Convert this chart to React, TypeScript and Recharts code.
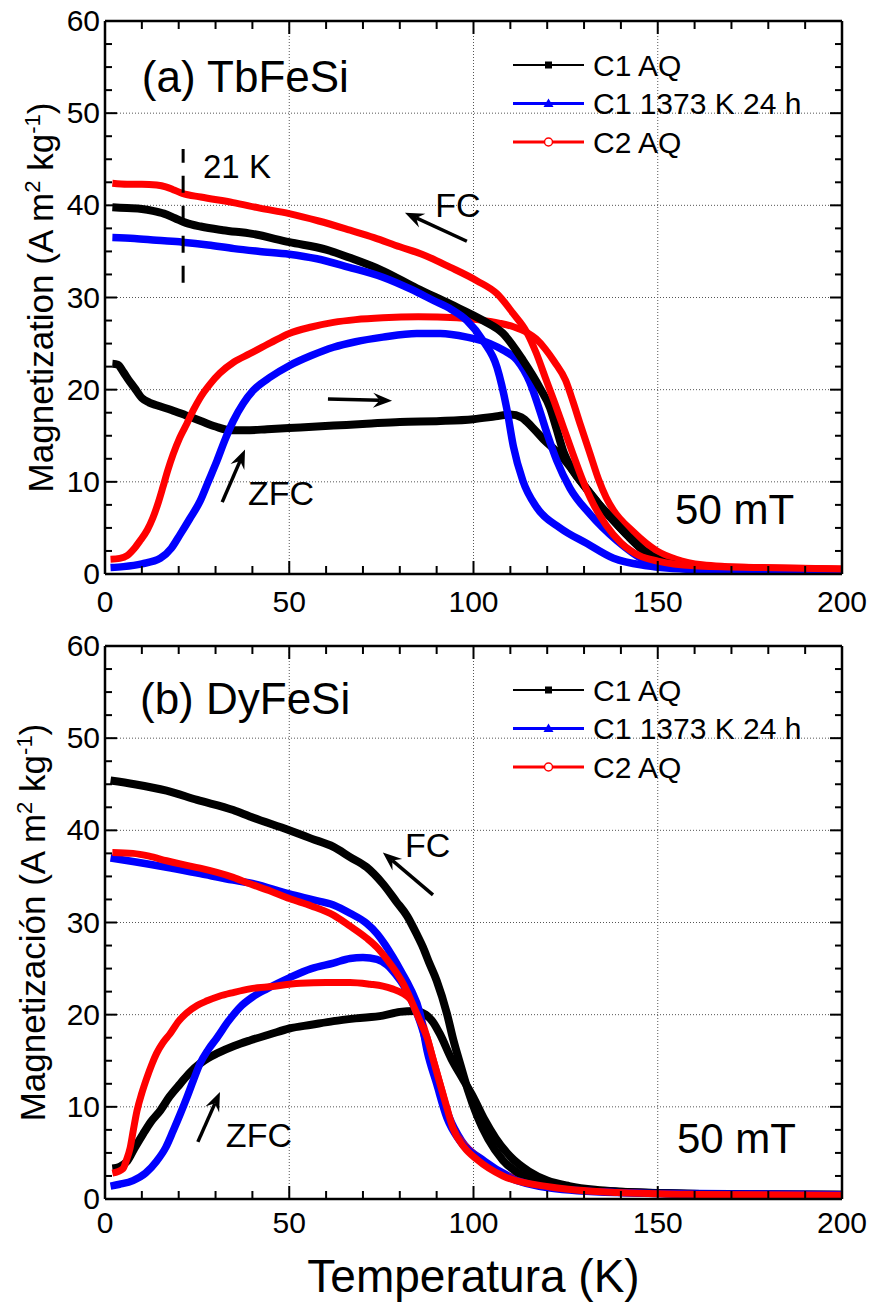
import React from 'react';
import { LineChart, Line, XAxis, YAxis, ReferenceLine, ReferenceDot, Legend } from 'recharts';

type Pt = [number, number];

// (a) TbFeSi, [T (K), M (A m2 kg-1)]
const tbC1AqZfc: Pt[] = [
  [2, 22.8], [3.5, 22.7], [5, 21.9], [6.5, 21.0], [8, 20.2], [10, 19.1], [12, 18.6], [14, 18.3],
  [18, 17.8], [22, 17.2], [26, 16.6], [30, 16.0], [34, 15.6], [38, 15.6], [44, 15.7], [53, 15.9],
  [62, 16.1], [71, 16.3], [80, 16.5], [91, 16.6], [100, 16.8], [106, 17.1], [110, 17.3], [113, 17.0],
  [116, 15.9], [119, 14.6], [122, 13.5], [124.5, 12.5], [127, 11.2], [130, 9.6], [134, 7.6], [138, 5.8],
  [142, 4.1], [146, 2.6], [151, 1.4], [156, 0.9], [165, 0.6], [180, 0.45], [200, 0.4],
];
const tbC1AqFc: Pt[] = [
  [2, 39.8], [6, 39.7], [10, 39.6], [13, 39.4], [16, 39.1], [19, 38.6], [22, 38.1], [26, 37.7],
  [32, 37.3], [40, 36.9], [50, 36.0], [60, 35.2], [66.5, 34.3], [75.4, 32.9], [84.6, 31.0], [93.6, 29.3],
  [102.6, 27.5], [108, 26.1], [113.4, 23.2], [118, 20.2], [120.8, 18.0], [122.5, 15.8], [124.3, 13.4],
  [127, 11.2], [130, 9.6], [134, 7.6], [138, 5.8], [142, 4.1], [146, 2.6], [151, 1.4], [156, 0.9],
  [165, 0.6], [180, 0.45], [200, 0.4],
];
const tbC1hZfc: Pt[] = [
  [1.5, 0.7], [5, 0.8], [10, 1.1], [15, 1.7], [18, 2.8], [20.4, 4.3], [23, 6.0], [25.8, 7.9], [28, 10.0],
  [30.4, 12.3], [32.5, 14.5], [34.8, 16.6], [37.5, 18.5], [40.2, 19.9], [45, 21.4], [50, 22.6], [56, 23.7],
  [62, 24.6], [68, 25.2], [75.4, 25.7], [84.6, 26.1], [91, 26.1], [98.2, 25.7], [104.5, 25.0], [108, 24.3],
  [111.8, 23.2], [115.3, 20.8], [118, 17.7], [120, 15.2], [122.6, 12.3], [126.2, 9.3], [131.6, 6.5],
  [139, 3.6], [146, 1.6], [152, 0.9], [160, 0.5], [180, 0.35], [200, 0.3],
];
const tbC1hFc: Pt[] = [
  [2, 36.5], [8, 36.4], [14, 36.2], [21, 36.0], [28, 35.7], [35, 35.3], [42, 35.0], [50, 34.7],
  [57.5, 34.2], [66, 33.3], [75.4, 32.2], [83, 30.9], [89, 29.7], [94, 28.7], [98.2, 27.5], [102.6, 25.3],
  [106.4, 22.4], [109, 18.0], [110.8, 13.9], [113.4, 10.1], [117.2, 7.2], [123.5, 5.0], [130.8, 3.3],
  [138, 1.7], [147, 0.9], [160, 0.5], [180, 0.35], [200, 0.3],
];
const tbC2AqZfc: Pt[] = [
  [1.5, 1.6], [4, 1.7], [6, 2.0], [8, 2.8], [9.5, 3.6], [11.5, 4.8], [13, 6.1], [14.5, 7.8], [15.7, 9.4],
  [17, 11.2], [18.5, 13.0], [20.3, 14.8], [22.2, 16.3], [24, 17.8], [25.8, 19.1], [28.5, 20.6], [31.2, 21.8],
  [35, 23.0], [39.3, 23.9], [45, 25.1], [50, 26.1], [56, 26.8], [62, 27.3], [68, 27.6], [75.4, 27.8],
  [85, 27.9], [95.5, 27.8], [101, 27.6], [107.2, 27.2], [111, 26.8], [114.5, 26.2], [117, 25.5],
  [119.5, 24.4], [122, 23.0], [125, 21.0], [127, 18.7], [129, 16.2], [131.5, 13.2], [134, 10.2],
  [136, 8.3], [138, 6.9], [143.3, 4.6], [149.8, 2.5], [155, 1.6], [162, 1.0], [175, 0.7], [200, 0.55],
];
const tbC2AqFc: Pt[] = [
  [2, 42.4], [6, 42.3], [10, 42.3], [14, 42.2], [16.5, 42.0], [18.5, 41.7], [21, 41.3], [26, 40.9],
  [34.8, 40.3], [42, 39.7], [50, 39.1], [58, 38.3], [66.5, 37.3], [73, 36.5], [80, 35.5], [86, 34.7],
  [93.6, 33.3], [101, 31.8], [106.4, 30.4], [110.7, 28.3], [114.5, 26.2], [117, 24.0], [119.5, 21.3],
  [122, 18.6], [124.5, 15.8], [127, 13.0], [129.7, 10.1], [132.5, 7.6], [136, 5.3], [140, 3.4],
  [145, 2.0], [150, 1.4], [160, 0.9], [178, 0.7], [200, 0.55],
];

// (b) DyFeSi
const dyC1AqZfc: Pt[] = [
  [2, 3.3], [4, 3.5], [6, 4.1], [8, 5.5], [10.4, 7.1], [12.5, 8.4], [15, 9.6], [17.5, 11.1], [20.4, 12.5],
  [23, 13.7], [25.8, 14.7], [28, 15.3], [30.4, 15.8], [35, 16.6], [39.3, 17.2], [45, 17.9], [50, 18.5],
  [56, 18.9], [62, 19.3], [68, 19.6], [75.4, 19.9], [80, 20.3], [84, 20.4], [87, 20.0], [89, 19.2],
  [91, 17.8], [94, 15.2], [97, 13.1], [100, 11.0], [103, 8.6], [106, 6.6], [110, 4.6], [115, 3.0],
  [120, 2.0], [126, 1.4], [133, 1.0], [140, 0.8], [155, 0.6], [175, 0.5], [200, 0.45],
];
const dyC1AqFc: Pt[] = [
  [1.5, 45.4], [8, 45.0], [16.7, 44.3], [25, 43.3], [34.8, 42.2], [39.3, 41.5], [50, 40.0], [56, 39.1],
  [62, 38.2], [66.5, 37.1], [71, 36.0], [75.4, 34.2], [79, 32.3], [82, 30.7], [84.5, 28.8], [86.3, 27.3],
  [88, 25.6], [90, 23.7], [92.8, 20.1], [94.5, 17.3], [96.5, 14.5], [98.5, 11.8], [101, 9.0], [104, 6.5],
  [108, 4.2], [113, 2.6], [120, 1.6], [130, 1.0], [140, 0.8], [155, 0.6], [175, 0.5], [200, 0.45],
];
const dyC1hZfc: Pt[] = [
  [1.5, 1.4], [4, 1.6], [7.6, 2.0], [11, 2.8], [14, 4.1], [16.5, 5.6], [18.5, 7.4], [20.5, 9.3],
  [22.2, 11.0], [24, 12.9], [25.8, 14.7], [28, 16.2], [30.4, 17.5], [33.5, 19.3], [36.6, 20.8], [40, 21.9],
  [43.9, 22.8], [50, 24.0], [56, 25.0], [62, 25.6], [66.5, 26.1], [70, 26.2], [73.8, 26.0], [76.5, 25.4],
  [79, 24.3], [81, 23.2], [83, 21.7], [85.5, 19.2], [87.8, 16.2], [90.5, 12.6], [93.3, 9.0], [96.8, 6.3],
  [103, 4.1], [110, 2.4], [121, 1.3], [139, 0.8], [160, 0.6], [200, 0.45],
];
const dyC1hFc: Pt[] = [
  [1.5, 37.0], [8, 36.6], [16.7, 36.0], [25.8, 35.3], [34.8, 34.6], [39.3, 34.3], [50, 33.1], [56, 32.5],
  [62, 31.9], [66.5, 31.0], [71, 29.9], [73.8, 28.8], [76, 27.6], [78.2, 26.2], [80.5, 24.6], [82.8, 22.9],
  [85.5, 20.1], [87.4, 16.1], [90, 12.5], [92.8, 8.8], [96.3, 6.3], [102.6, 4.1], [109.9, 2.3],
  [120.8, 1.2], [139, 0.7], [160, 0.55], [200, 0.45],
];
const dyC2AqZfc: Pt[] = [
  [2, 2.8], [4.9, 3.3], [5.8, 4.2], [6.8, 5.5], [7.7, 7.5], [8.7, 9.6], [10, 11.5], [11.4, 13.2],
  [12.7, 14.6], [14, 15.8], [15.8, 17.0], [17.6, 17.9], [20, 19.3], [22.2, 20.2], [25, 21.0], [27.7, 21.5],
  [31, 22.0], [34.8, 22.4], [39.3, 22.8], [43.9, 23.0], [53, 23.4], [60, 23.5], [66.5, 23.5], [72, 23.3],
  [75.4, 23.1], [78, 22.8], [80.9, 22.3], [82.8, 21.7], [84.5, 20.6], [86, 19.3], [87.4, 17.5], [89, 15.2],
  [90.9, 12.5], [94.4, 7.7], [97.5, 5.9], [100.9, 4.6], [108, 2.7], [120.8, 1.4], [139, 0.7], [160, 0.5],
  [200, 0.4],
];
const dyC2AqFc: Pt[] = [
  [2, 37.6], [7.6, 37.5], [12, 37.2], [16.7, 36.7], [21, 36.3], [25.8, 35.9], [34.8, 34.9], [39.3, 34.2],
  [45, 33.4], [50, 32.6], [56, 31.8], [62, 30.8], [66.5, 29.6], [71, 28.3], [73.8, 27.3], [76.5, 26.0],
  [79.2, 24.5], [81, 23.3], [82.8, 21.8], [84.2, 20.5], [85.5, 19.3], [87.4, 17.5], [89, 15.2],
  [90.9, 12.5], [92.7, 10.0], [94.4, 7.7], [97.5, 5.6], [100.9, 4.3], [108, 2.5], [120.8, 1.3],
  [139, 0.7], [160, 0.5], [200, 0.4],
];

const xTicks = [0, 10, 20, 30, 40, 50, 60, 70, 80, 90, 100, 110, 120, 130, 140, 150, 160, 170, 180, 190, 200];
const yTicks = [0, 2.5, 5, 7.5, 10, 12.5, 15, 17.5, 20, 22.5, 25, 27.5, 30, 32.5, 35, 37.5, 40, 42.5, 45, 47.5, 50, 52.5, 55, 57.5, 60];
const gridX = [50, 100, 150];
const gridY = [10, 20, 30, 40, 50];

const legendNames = ['C1 AQ', 'C1 1373 K 24 h', 'C2 AQ'];
const seriesColors = ['#000000', '#0000ff', '#ff0000'];
const seriesWidths = [8, 7.5, 7];

const FONT = '"Liberation Sans", Arial, sans-serif';

const toRows = (pts: Pt[]) => pts.map(([t, m]) => ({ t, m }));

const xTick = (side: 'bottom' | 'top', labelDy: number) => (p: any) => {
  const v = p.payload.value;
  const major = v % 50 === 0;
  const len = major ? 13 : 8;
  const dir = side === 'bottom' ? -1 : 1;
  return (
    <g>
      <line x1={p.x} x2={p.x} y1={p.y} y2={p.y + dir * len} stroke="#000" strokeWidth={2} />
      {side === 'bottom' && major && (
        <text x={p.x} y={p.y + labelDy} textAnchor="middle" fontSize={30} fontFamily={FONT} fill="#000">{v}</text>
      )}
    </g>
  );
};

const yTick = (side: 'left' | 'right') => (p: any) => {
  const v = p.payload.value;
  const major = v % 10 === 0;
  const len = major ? 12 : 7;
  const dir = side === 'left' ? 1 : -1;
  return (
    <g>
      <line x1={p.x} x2={p.x + dir * len} y1={p.y} y2={p.y} stroke="#000" strokeWidth={2} />
      {side === 'left' && major && (
        <text x={p.x - 5} y={p.y + 10} textAnchor="end" fontSize={30} fontFamily={FONT} fill="#000">{v}</text>
      )}
    </g>
  );
};

// dotted grid line, drawn by hand so only the major positions get one
const GridLine = (p: any) => (
  <line x1={p.x1} y1={p.y1} x2={p.x2} y2={p.y2} stroke="#555" strokeWidth={1} strokeDasharray="1 2" />
);

const Arrow = (p: any) => {
  const { x1, y1, x2, y2 } = p;
  const a = Math.atan2(y2 - y1, x2 - x1);
  const L = 19, W = 7.5;
  const bx = x2 - L * Math.cos(a), by = y2 - L * Math.sin(a);
  const nx = x2 - L * 0.65 * Math.cos(a), ny = y2 - L * 0.65 * Math.sin(a);
  const lx = bx + W * Math.sin(a), ly = by - W * Math.cos(a);
  const rx = bx - W * Math.sin(a), ry = by + W * Math.cos(a);
  return (
    <g>
      <line x1={x1} y1={y1} x2={nx} y2={ny} stroke="#000" strokeWidth={3.5} />
      <polygon points={`${x2},${y2} ${lx},${ly} ${nx},${ny} ${rx},${ry}`} fill="#000" />
    </g>
  );
};

const textMark = (text: string, size: number) => (p: any) => (
  <text x={p.cx} y={p.cy} fontSize={size} fontFamily={FONT} fill="#000">{text}</text>
);

const LegendBox = () => (
  <svg width={340} height={120}>
    {legendNames.map((name, i) => {
      const cy = 21 + i * 38.5;
      const c = seriesColors[i];
      return (
        <g key={name}>
          <line x1={8} x2={79} y1={cy} y2={cy} stroke={c} strokeWidth={i === 0 ? 2 : 3} />
          {i === 0 && <rect x={40} y={cy - 3.5} width={7} height={7} fill={c} />}
          {i === 1 && <polygon points={`43.5,${cy - 5} 38.5,${cy + 3.5} 48.5,${cy + 3.5}`} fill={c} />}
          {i === 2 && <circle cx={43.5} cy={cy} r={4} fill="#fff" stroke={c} strokeWidth={1.5} />}
          <text x={88} y={cy + 10.5} fontSize={30} fontFamily={FONT} fill="#000">{name}</text>
        </g>
      );
    })}
  </svg>
);

type Note = { text: string; t: number; m: number; size: number };
type ArrowDef = { from: Pt; to: Pt };

interface PanelProps {
  top: number;
  height: number;
  bottomAxis: number;
  zfc: Pt[][];
  fc: Pt[][];
  yTitle: string;
  yTitleX: number;
  labelDy: number;
  notes: Note[];
  arrows: ArrowDef[];
  mark21?: Pt[];
  xTitle?: string;
}

const Panel: React.FC<PanelProps> = (props) => {
  const yLabel = (lp: any) => {
    const vb = lp.viewBox || { x: 0, y: 21, width: 105, height: 553 };
    const cx = props.yTitleX;
    const cy = vb.y + vb.height / 2;
    return (
      <text x={cx} y={cy} transform={`rotate(-90, ${cx}, ${cy})`} textAnchor="middle" fontSize={35} fontFamily={FONT} fill="#000">
        {props.yTitle} (A m<tspan dy={-13} fontSize={22}>2</tspan><tspan dy={13}> kg</tspan>
        <tspan dy={-13} fontSize={22}>-1</tspan><tspan dy={13}>)</tspan>
      </text>
    );
  };
  const xLabel = (lp: any) => {
    if (!props.xTitle) return null;
    const vb = lp.viewBox || { x: 105, y: 574, width: 737, height: 103 };
    return (
      <text x={vb.x + vb.width / 2} y={vb.y + 93} textAnchor="middle" fontSize={46} fontFamily={FONT} fill="#000">
        {props.xTitle}
      </text>
    );
  };
  const series = [0, 1, 2];
  const axisLine = { stroke: '#000', strokeWidth: 2.5 };
  return (
    <div style={{ position: 'absolute', left: 0, top: props.top }}>
      <LineChart width={875} height={props.height} margin={{ top: 0, right: 0, bottom: 0, left: 0 }}>
        <XAxis xAxisId="x" type="number" dataKey="t" domain={[0, 200]} ticks={xTicks} interval={0} height={props.bottomAxis}
          tickSize={0} tickMargin={0} tickLine={false} axisLine={axisLine}
          tick={xTick('bottom', props.labelDy)} allowDataOverflow label={xLabel} />
        <XAxis xAxisId="xt" orientation="top" type="number" dataKey="t" domain={[0, 200]} ticks={xTicks} interval={0} height={21}
          tickSize={0} tickMargin={0} tickLine={false} axisLine={axisLine}
          tick={xTick('top', 0)} allowDataOverflow />
        <YAxis yAxisId="y" type="number" domain={[0, 60]} ticks={yTicks} interval={0} width={105}
          tickSize={0} tickMargin={0} tickLine={false} axisLine={axisLine}
          tick={yTick('left')} allowDataOverflow label={yLabel} />
        <YAxis yAxisId="yr" orientation="right" type="number" domain={[0, 60]} ticks={yTicks} interval={0} width={33}
          tickSize={0} tickMargin={0} tickLine={false} axisLine={axisLine}
          tick={yTick('right')} allowDataOverflow />
        {gridX.map((v) => (
          <ReferenceLine key={`gx${v}`} xAxisId="x" yAxisId="y" x={v} shape={GridLine} />
        ))}
        {gridY.map((v) => (
          <ReferenceLine key={`gy${v}`} xAxisId="x" yAxisId="y" y={v} shape={GridLine} />
        ))}
        {series.map((i) => (
          <Line key={`z${i}`} name={`${legendNames[i]} ZFC`} xAxisId="x" yAxisId="y" data={toRows(props.zfc[i])}
            dataKey="m" type="monotone" stroke={seriesColors[i]} strokeWidth={seriesWidths[i]} dot={false}
            isAnimationActive={false} />
        ))}
        {series.map((i) => (
          <Line key={`f${i}`} name={`${legendNames[i]} FC`} xAxisId="x" yAxisId="y" data={toRows(props.fc[i])}
            dataKey="m" type="monotone" stroke={seriesColors[i]} strokeWidth={seriesWidths[i]} dot={false}
            isAnimationActive={false} />
        ))}
        {props.mark21 && (
          <ReferenceLine xAxisId="x" yAxisId="y" segment={[{ x: props.mark21[0][0], y: props.mark21[0][1] }, { x: props.mark21[1][0], y: props.mark21[1][1] }]}
            stroke="#000" strokeWidth={3} strokeDasharray="17 13" ifOverflow="visible" />
        )}
        {props.arrows.map((a, i) => (
          <ReferenceLine key={`a${i}`} xAxisId="x" yAxisId="y" segment={[{ x: a.from[0], y: a.from[1] }, { x: a.to[0], y: a.to[1] }]}
            shape={Arrow} ifOverflow="visible" />
        ))}
        {props.notes.map((n) => (
          <ReferenceDot key={n.text} xAxisId="x" yAxisId="y" x={n.t} y={n.m} r={0} ifOverflow="visible"
            shape={textMark(n.text, n.size)} />
        ))}
        <Legend layout="vertical" align="center" verticalAlign="middle"
          wrapperStyle={{ left: 505, top: 44, width: 340, height: 120 }} content={() => <LegendBox />} />
      </LineChart>
    </div>
  );
};

const tbNotes: Note[] = [
  { text: '(a) TbFeSi', t: 10.0, m: 52.3, size: 44 },
  { text: '21 K', t: 26.6, m: 43.0, size: 33 },
  { text: 'FC', t: 89.6, m: 38.7, size: 34 },
  { text: 'ZFC', t: 38.8, m: 7.5, size: 34 },
  { text: '50 mT', t: 154.7, m: 5.4, size: 42 },
];
const tbArrows: ArrowDef[] = [
  { from: [98.2, 36.1], to: [81.4, 39.2] },
  { from: [60.5, 19.0], to: [77.9, 18.8] },
  { from: [31.8, 7.8], to: [38.0, 13.5] },
];
const tb21K: Pt[] = [[21.2, 31.6], [21.2, 46.1]];

const dyNotes: Note[] = [
  { text: '(b) DyFeSi', t: 9.5, m: 52.6, size: 44 },
  { text: 'FC', t: 81.4, m: 37.1, size: 34 },
  { text: 'ZFC', t: 32.8, m: 5.65, size: 34 },
  { text: '50 mT', t: 155.2, m: 5.0, size: 42 },
];
const dyArrows: ArrowDef[] = [
  { from: [89.0, 33.0], to: [75.4, 37.6] },
  { from: [25.2, 6.2], to: [31.2, 11.6] },
];

export default function App() {
  return (
    <div style={{ position: 'absolute', left: 0, top: 0, width: 875, height: 1302, background: '#fff' }}>
      <Panel top={0} height={630} bottomAxis={56}
        zfc={[tbC1AqZfc, tbC1hZfc, tbC2AqZfc]} fc={[tbC1AqFc, tbC1hFc, tbC2AqFc]}
        yTitle="Magnetization" yTitleX={53} labelDy={38} notes={tbNotes} arrows={tbArrows} mark21={tb21K} />
      <Panel top={625} height={677} bottomAxis={103}
        zfc={[dyC1AqZfc, dyC1hZfc, dyC2AqZfc]} fc={[dyC1AqFc, dyC1hFc, dyC2AqFc]}
        yTitle="Magnetización" yTitleX={45} labelDy={34} notes={dyNotes} arrows={dyArrows}
        xTitle="Temperatura (K)" />
    </div>
  );
}
